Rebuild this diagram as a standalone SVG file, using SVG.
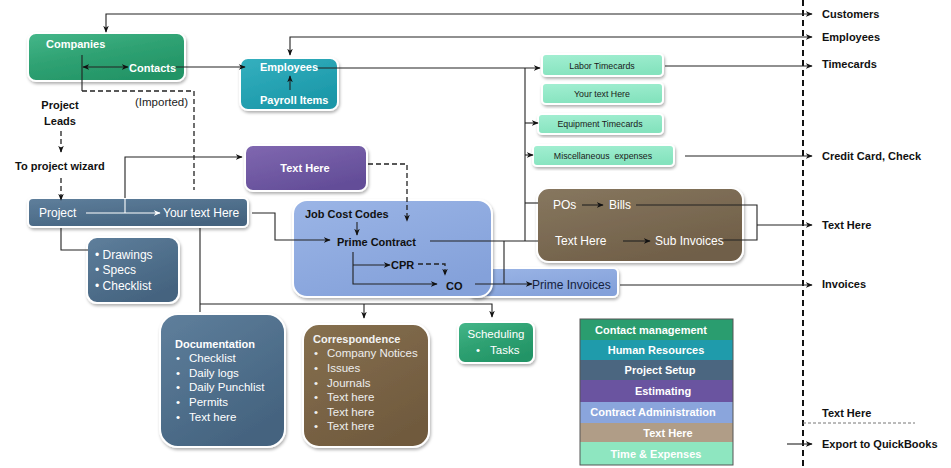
<svg xmlns="http://www.w3.org/2000/svg" width="951" height="468" viewBox="0 0 951 468">
<style>
text{font-family:"Liberation Sans",Arial,sans-serif}
.b{font-weight:bold;font-size:11px}
.r{font-size:12px}
.s{font-size:8.8px;fill:#1a1a1a;text-anchor:middle}
.w{fill:#fff}
.k{fill:#111}
.c{text-anchor:middle}
.ln{fill:none;stroke:#222;stroke-width:1.1}
.lw{fill:none;stroke:#fff;stroke-width:1.1}
.dl{fill:none;stroke:#222;stroke-width:1.3;stroke-dasharray:5 3}
.box{stroke:#fff;stroke-width:2;filter:url(#sh)}
</style>
<defs>
<filter id="sh" x="-10%" y="-10%" width="125%" height="130%"><feDropShadow dx="1" dy="2" stdDeviation="1.5" flood-color="#000" flood-opacity="0.3"/></filter>
<marker id="a" viewBox="0 0 10 10" refX="9" refY="5" markerWidth="7" markerHeight="7" markerUnits="userSpaceOnUse" orient="auto-start-reverse"><path d="M0,1 L10,5 L0,9 L3,5 Z" fill="#111"/></marker>
<marker id="aw" viewBox="0 0 10 10" refX="9" refY="5" markerWidth="7" markerHeight="7" markerUnits="userSpaceOnUse" orient="auto"><path d="M0,1 L10,5 L0,9 L3,5 Z" fill="#fff"/></marker>
<linearGradient id="gGreen" x1="0" y1="0" x2="0.6" y2="1"><stop offset="0" stop-color="#45b78a"/><stop offset="0.5" stop-color="#2fa273"/><stop offset="1" stop-color="#239466"/></linearGradient>
<linearGradient id="gTeal" x1="0" y1="0" x2="0.6" y2="1"><stop offset="0" stop-color="#35b0bf"/><stop offset="1" stop-color="#1a97a8"/></linearGradient>
<linearGradient id="gSlate" x1="0" y1="0" x2="0.6" y2="1"><stop offset="0" stop-color="#5f7f9c"/><stop offset="1" stop-color="#44637f"/></linearGradient>
<linearGradient id="gPurple" x1="0" y1="0" x2="0.6" y2="1"><stop offset="0" stop-color="#8068b0"/><stop offset="1" stop-color="#634d98"/></linearGradient>
<linearGradient id="gBlue" x1="0" y1="0" x2="0.6" y2="1"><stop offset="0" stop-color="#9bb5e6"/><stop offset="1" stop-color="#84a1da"/></linearGradient>
<linearGradient id="gMint" x1="0" y1="0" x2="0.3" y2="1"><stop offset="0" stop-color="#a3efd2"/><stop offset="1" stop-color="#85e3be"/></linearGradient>
<linearGradient id="gBrown" x1="0" y1="0" x2="0.6" y2="1"><stop offset="0" stop-color="#87775f"/><stop offset="1" stop-color="#705f48"/></linearGradient>
<linearGradient id="gBrown2" x1="0" y1="0" x2="0.6" y2="1"><stop offset="0" stop-color="#86704f"/><stop offset="1" stop-color="#705a3e"/></linearGradient>
</defs>

<!-- separator -->
<line x1="803" y1="0" x2="803" y2="468" stroke="#111" stroke-width="2" stroke-dasharray="6 4"/>
<line x1="803" y1="423" x2="915" y2="423" stroke="#777" stroke-width="1" stroke-dasharray="3 2"/>

<!-- nodes -->
<g id="companies"><rect class="box" x="28" y="33" width="157" height="48" rx="8" fill="url(#gGreen)"/>
<text class="b w" x="46" y="48">Companies</text><text class="b w" x="129" y="72">Contacts</text></g>

<g id="employees"><rect class="box" x="240" y="58" width="98" height="52" rx="8" fill="url(#gTeal)"/>
<text class="b w" x="260" y="71">Employees</text><text class="b w" x="260" y="104">Payroll Items</text></g>

<g id="labor"><rect class="box" x="542" y="54" width="121" height="22" rx="4" fill="url(#gMint)"/><text class="s" x="602" y="69">Labor Timecards</text></g>
<g id="yourtext1"><rect class="box" x="542" y="83" width="121" height="21" rx="4" fill="url(#gMint)"/><text class="s" x="602" y="97">Your text Here</text></g>
<g id="equipment"><rect class="box" x="538" y="114" width="125" height="20" rx="4" fill="url(#gMint)"/><text class="s" x="600" y="127">Equipment Timecards</text></g>
<g id="misc"><rect class="box" x="533" y="145" width="141" height="21" rx="4" fill="url(#gMint)"/><text class="s" x="603" y="159" xml:space="preserve">Miscellaneous  expenses</text></g>

<g id="texthere-purple"><rect class="box" x="245" y="145" width="122" height="46" rx="8" fill="url(#gPurple)"/><text class="b w c" x="305" y="172">Text Here</text></g>

<g id="project"><rect class="box" x="28" y="198" width="220" height="29" rx="5" fill="url(#gSlate)"/>
<text class="r w" x="39" y="217">Project</text><text class="r w" x="163" y="217">Your text Here</text></g>

<g id="drawings"><rect class="box" x="87" y="237" width="92" height="66" rx="10" fill="url(#gSlate)"/>
<text class="r w" x="95" y="259">• Drawings</text><text class="r w" x="95" y="274">• Specs</text><text class="r w" x="95" y="290">• Checklist</text></g>

<g id="prime-invoices"><rect class="box" x="470" y="268" width="148" height="29" rx="5" fill="url(#gBlue)"/>
<text class="r" x="532" y="289" fill="#14213d">Prime Invoices</text></g>

<g id="jobcost"><rect class="box" x="293" y="200" width="199" height="97" rx="14" fill="url(#gBlue)"/>
<text class="b k" x="305" y="218">Job Cost Codes</text><text class="b k" x="337" y="246">Prime Contract</text>
<text class="b k" x="391" y="269">CPR</text><text class="b k" x="446" y="290">CO</text></g>

<g id="pos"><rect class="box" x="537" y="188" width="206" height="74" rx="12" fill="url(#gBrown)"/>
<text class="r w" x="553" y="209">POs</text><text class="r w" x="609" y="209">Bills</text>
<text class="r w" x="555" y="245">Text Here</text><text class="r w" x="655" y="245">Sub Invoices</text></g>

<g id="documentation"><rect class="box" x="160" y="314" width="125" height="133" rx="18" fill="url(#gSlate)"/>
<text class="b w" x="175" y="348">Documentation</text>
<g class="w" font-size="11.5"><text x="176" y="362">•</text><text x="176" y="377">•</text><text x="176" y="391">•</text><text x="176" y="406">•</text><text x="176" y="421">•</text></g>
<g font-size="11.5" fill="#fff"><text x="189" y="362">Checklist</text><text x="189" y="377">Daily logs</text><text x="189" y="391">Daily Punchlist</text><text x="189" y="406">Permits</text><text x="189" y="421">Text here</text></g></g>

<g id="correspondence"><rect class="box" x="303" y="324" width="126" height="123" rx="16" fill="url(#gBrown2)"/>
<text class="b" x="313" y="343" fill="#f2f2f2">Correspondence</text>
<g font-size="11.5" fill="#eee"><text x="314" y="357">•</text><text x="314" y="372">•</text><text x="314" y="387">•</text><text x="314" y="401">•</text><text x="314" y="416">•</text><text x="314" y="430">•</text>
<text x="327" y="357">Company Notices</text><text x="327" y="372">Issues</text><text x="327" y="387">Journals</text><text x="327" y="401">Text here</text><text x="327" y="416">Text here</text><text x="327" y="430">Text here</text></g></g>

<g id="scheduling"><rect class="box" x="458" y="322" width="76" height="41" rx="7" fill="url(#gGreen)"/>
<text class="w c" font-size="11.5" x="496" y="338">Scheduling</text><text class="w" font-size="11.5" x="476" y="354">•</text><text class="w" font-size="11.5" x="490" y="354">Tasks</text></g>

<g id="legend">
<rect x="580" y="319" width="153" height="21" fill="#2a9d6f"/>
<rect x="580" y="340" width="153" height="20" fill="#1f9bab"/>
<rect x="580" y="360" width="153" height="20" fill="#4b6680"/>
<rect x="580" y="380" width="153" height="22" fill="#6a54a0"/>
<rect x="580" y="402" width="153" height="21" fill="#8aa5dc"/>
<rect x="580" y="423" width="153" height="19" fill="#b09d87"/>
<rect x="580" y="442" width="153" height="23" fill="#8ee6c0"/>
<rect x="580" y="319" width="153" height="146" fill="none" stroke="#555" stroke-width="1"/>
<g class="b w c"><text x="651" y="334">Contact management</text><text x="656" y="354">Human Resources</text><text x="660" y="374">Project Setup</text><text x="663" y="395">Estimating</text><text x="653" y="416">Contract Administration</text><text x="668" y="437">Text Here</text><text x="656" y="458">Time &amp; Expenses</text></g>
</g>

<g id="labels" class="b k">
<text x="822" y="18">Customers</text><text x="822" y="41">Employees</text><text x="822" y="68">Timecards</text>
<text x="822" y="160">Credit Card, Check</text><text x="822" y="229">Text Here</text><text x="822" y="288">Invoices</text>
<text x="822" y="417">Text Here</text><text x="822" y="448">Export to QuickBooks</text>
<text x="60" y="109" class="c">Project</text><text x="60" y="125" class="c">Leads</text>
<text x="15" y="170">To project wizard</text>
</g>
<text x="135" y="106" font-size="11.5" fill="#222">(Imported)</text>

<!-- connectors -->
<g id="connectors">
<path class="ln" d="M106,32 V14 H812" marker-start="url(#a)" marker-end="url(#a)"/>
<path class="ln" d="M290,55 V37 H812" marker-start="url(#a)" marker-end="url(#a)"/>
<path class="ln" d="M83,67 H128" marker-start="url(#a)" marker-end="url(#a)"/>
<path class="ln" d="M82,55 V91"/>
<path class="dl" stroke-width="1" d="M82,91 H194 V190" stroke="#555"/>
<path class="ln" d="M176,67 H245" marker-end="url(#a)"/>
<path class="ln" stroke="#333" d="M290,90 V76" marker-end="url(#a)"/>
<path class="ln" d="M318,68 H540" marker-end="url(#a)"/>
<path class="ln" d="M525,68 V241"/>
<path class="ln" d="M525,123 H538" marker-end="url(#a)"/>
<path class="ln" d="M525,155 H533" marker-end="url(#a)"/>
<path class="ln" d="M525,203 H538"/>
<path class="ln" d="M430,241 H538"/>
<path class="ln" d="M504,241 V284"/>
<path class="ln" d="M665,66 H812" marker-end="url(#a)"/>
<path class="ln" d="M685,156 H812" marker-end="url(#a)"/>
<path class="ln" d="M636,205 H757 V240 H722"/>
<path class="ln" d="M757,225 H812" marker-end="url(#a)"/>
<path class="ln" d="M620,285 H812" marker-end="url(#a)"/>
<path class="ln" d="M475,284 H532" marker-end="url(#a)"/>
<path class="ln" d="M582,205 H603" marker-end="url(#a)"/>
<path class="ln" d="M623,241 H650" marker-end="url(#a)"/>
<path class="ln" d="M787,444 H812" marker-end="url(#a)"/>
<path class="lw" d="M86,213 H160" marker-end="url(#aw)"/>
<path class="lw" d="M125,213 V198"/>
<path class="ln" d="M125,198 V157 H242" marker-end="url(#a)"/>
<path class="ln" stroke="#444" d="M252,213 H275 V240 H330" marker-end="url(#a)"/>
<path class="ln" stroke="#444" d="M61,228 V250 H88"/>
<path class="ln" stroke="#444" d="M200,228 V312"/>
<path class="ln" stroke="#444" d="M200,304 H492 V317" marker-end="url(#a)"/>
<path class="ln" d="M364,304 V318" marker-end="url(#a)"/>
<path class="ln" d="M357,222 V235" marker-end="url(#a)"/>
<path class="dl" d="M368,164 H407 V221" marker-end="url(#a)"/>
<path class="ln" d="M353,252 V284 H437" marker-end="url(#a)"/>
<path class="ln" d="M353,265 H390" marker-end="url(#a)"/>
<path class="dl" d="M418,264 H445 V275" marker-end="url(#a)"/>
<path class="dl" d="M61,131 V152" marker-end="url(#a)"/>
<path class="dl" d="M61,178 V200" marker-end="url(#a)"/>
</g>
</svg>
